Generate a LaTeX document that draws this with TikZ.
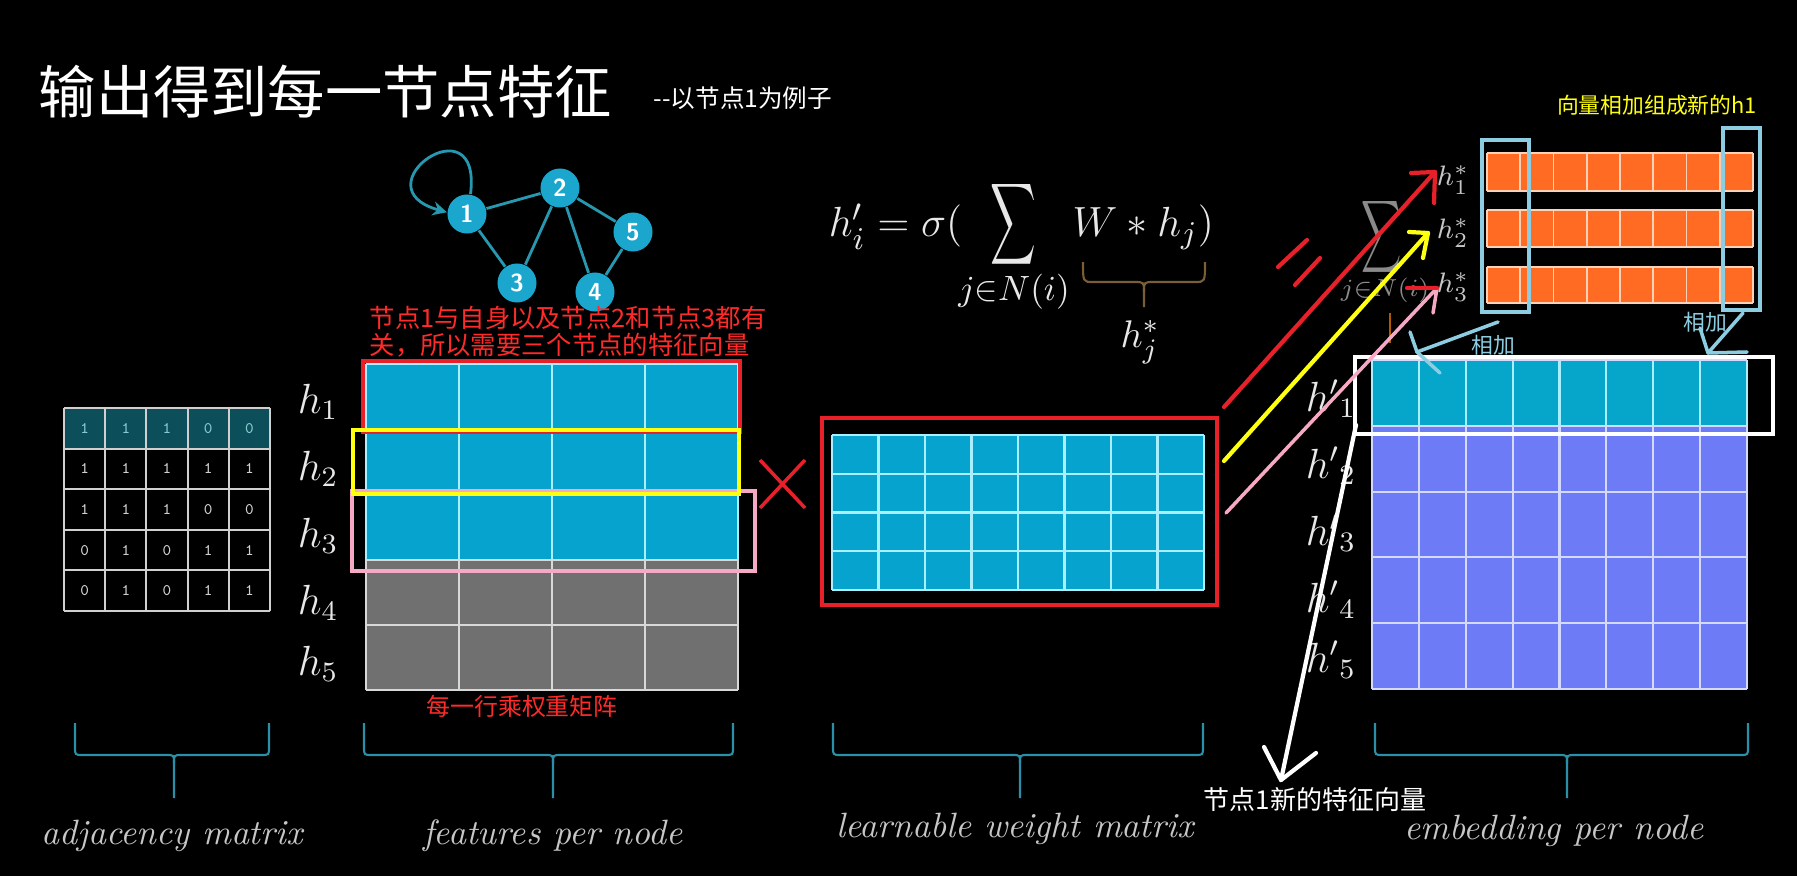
\documentclass[tikz,border=0pt]{standalone}
\usepackage{amsmath}
\usepackage{graphicx}
\usepackage{fontspec}
\newfontfamily\cjk{Noto Sans CJK SC}
\usetikzlibrary{arrows.meta}
\definecolor{cellblue}{HTML}{06A3CE}
\definecolor{gridcyan}{HTML}{A8F0FF}
\definecolor{cellgray}{HTML}{707070}
\definecolor{gridgray}{HTML}{D8D8D8}
\definecolor{nodeblue}{HTML}{1BA7CD}
\definecolor{edgeteal}{HTML}{2898B0}
\definecolor{adjteal}{HTML}{0C4F5B}
\definecolor{adjgrid}{HTML}{D0D0D0}
\definecolor{adjtop}{HTML}{8CC8CF}
\definecolor{boxred}{HTML}{E8202A}
\definecolor{txtred}{HTML}{FF2A2A}
\definecolor{boxyel}{HTML}{FFFF10}
\definecolor{boxpink}{HTML}{F7A8C4}
\definecolor{orangec}{HTML}{FF6B22}
\definecolor{gridorange}{HTML}{FFD2B8}
\definecolor{lblue}{HTML}{8CCDE2}
\definecolor{embblue}{HTML}{6E7BF7}
\definecolor{embteal}{HTML}{05A6C9}
\definecolor{embgrid}{HTML}{D4DAFF}
\definecolor{bracec}{HTML}{2A8FA8}
\definecolor{browncl}{HTML}{7A5E35}
\definecolor{labgray}{HTML}{C6C6C6}
\definecolor{mathw}{HTML}{E8E8E8}
\definecolor{faint}{HTML}{8A8A8A}
\begin{document}
\begin{tikzpicture}[x=0.01cm,y=-0.01cm,
  gnode/.style={circle,fill=nodeblue,minimum size=0.39cm,inner sep=0pt,text=white,font=\sffamily\bfseries\fontsize{7}{8}\selectfont},
  gedge/.style={draw=edgeteal,line width=0.8pt},
  adjnum/.style={text=adjgrid,font=\ttfamily\fontsize{4.6}{5}\selectfont,inner sep=0pt},
  hlab/.style={text=mathw,font=\fontsize{11.5}{13}\selectfont,inner sep=0pt},
  hstar/.style={text=labgray,font=\fontsize{8}{9}\selectfont,inner sep=0pt},
  botlab/.style={text=labgray,font=\itshape\fontsize{10}{12}\selectfont,inner sep=0pt},
  bbrace/.style={draw=bracec,line width=0.6pt},
  redtxt/.style={text=txtred,font=\cjk\fontsize{7.2}{7.7}\selectfont,inner sep=0pt},
  hand/.style={line width=1.2pt,line cap=round,line join=round},
  mathbig/.style={text=mathw,font=\fontsize{13}{15}\selectfont,inner sep=0pt}
]
\fill[black] (0,0) rectangle (1797,876);

% ---------- title ----------
\node[anchor=west,text=white,font=\cjk\fontsize{16.3}{18}\selectfont,inner sep=0pt] (title) at (38,92) {输出得到每一节点特征};
\node[anchor=west,text=white,font=\cjk\fontsize{7}{8}\selectfont,inner sep=0pt] (subtitle) at (653,98) {-{}-以节点1为例子};

% ---------- graph ----------
\node[gnode] (n1) at (467,214) {1};
\node[gnode] (n2) at (560,188) {2};
\node[gnode] (n5) at (633,232) {5};
\node[gnode] (n3) at (517,283) {3};
\node[gnode] (n4) at (595,292) {4};
\draw[gedge] (n1) -- (n2);
\draw[gedge] (n1) -- (n3);
\draw[gedge] (n2) -- (n3);
\draw[gedge] (n2) -- (n4);
\draw[gedge] (n2) -- (n5);
\draw[gedge] (n5) -- (n4);
\draw[gedge,-{Stealth[length=4pt,width=4pt]}] (n1.80) .. controls +(12,-95) and +(-90,-25) .. (n1.175);

% ---------- adjacency matrix ----------
\fill[adjteal] (64,408) rectangle (270,448.6);
\foreach \i in {0,...,5} {
  \draw[adjgrid,line width=0.6pt] ({64+41.2*\i},408) -- ({64+41.2*\i},611);
  \draw[adjgrid,line width=0.6pt] (64,{408+40.6*\i}) -- (270,{408+40.6*\i});
}
\foreach \row/\rc [count=\r] in {{1,1,1,0,0}/adjtop,{1,1,1,1,1}/adjgrid,{1,1,1,0,0}/adjgrid,{0,1,0,1,1}/adjgrid,{0,1,0,1,1}/adjgrid} {
  \foreach \v [count=\c] in \row {
    \node[adjnum,text=\rc] (a\r\c) at ({64+41.2*(\c-0.5)},{408+40.6*(\r-0.5)}) {\v};
  }
}

% ---------- features matrix ----------
\fill[cellblue] (366,364) rectangle (738,560);
\fill[cellgray] (366,560) rectangle (738,690);
\foreach \i in {0,...,4} {
  \draw[gridcyan,line width=0.6pt] ({366+93*\i},364) -- ({366+93*\i},560);
  \draw[gridgray,line width=0.6pt] ({366+93*\i},560) -- ({366+93*\i},690);
}
\foreach \j in {0,1,2} \draw[gridcyan,line width=0.6pt] (366,{364+65.2*\j}) -- (738,{364+65.2*\j});
\foreach \j in {3,4,5} \draw[gridgray,line width=0.6pt] (366,{364+65.2*\j}) -- (738,{364+65.2*\j});
\node[hlab] (h1) at (318,402) {$h_1$};
\node[hlab] (h2) at (318,469) {$h_2$};
\node[hlab] (h3) at (318,536) {$h_3$};
\node[hlab] (h4) at (318,603) {$h_4$};
\node[hlab] (h5) at (318,664) {$h_5$};

\node[redtxt,anchor=north west,align=left] (note) at (369,305) {节点1与自身以及节点2和节点3都有\\关，所以需要三个节点的特征向量};
\node[redtxt,font=\cjk\fontsize{6.8}{7}\selectfont] (rownote) at (522,706) {每一行乘权重矩阵};

\draw[boxred,line width=1.2pt] (363,361) rectangle (740,432);
\draw[boxpink,line width=1.1pt] (352,491) rectangle (755,571);
\draw[boxyel,line width=1.3pt] (353,430) rectangle (739,494);

% multiply sign
\coordinate (x1) at (760,460); \coordinate (x2) at (805,508);
\coordinate (x3) at (805,460); \coordinate (x4) at (760,508);
\draw[boxred,line width=1pt] (x1) -- (x2);
\draw[boxred,line width=1pt] (x3) -- (x4);

% ---------- weight matrix ----------
\fill[cellblue] (832,435) rectangle (1204,590);
\foreach \i in {0,...,8} \draw[gridcyan,line width=0.6pt] ({832+46.5*\i},435) -- ({832+46.5*\i},590);
\foreach \j in {0,...,4} \draw[gridcyan,line width=0.6pt] (832,{435+38.75*\j}) -- (1204,{435+38.75*\j});
\draw[boxred,line width=1.3pt] (822,418) rectangle (1217,605);

% ---------- formula ----------
\node[mathbig,anchor=base east] (fl) at (963,237) {$h'_i=\sigma($};
\node[mathbig] (fsum) at (1013,224) {\scalebox{0.75}[1.35]{$\displaystyle\sum$}};
\node[text=mathw,font=\fontsize{10}{11}\selectfont,inner sep=0pt,anchor=base] (fsub) at (1014,300) {$j{\in}N(i)$};
\node[mathbig,anchor=base west] (fr) at (1072,237) {$W*h_j)$};
\draw[draw=browncl,line width=0.6pt] (1083,262) .. controls (1083,282) .. (1093,282) -- (1134,282) .. controls (1144,282) .. (1144,292) -- (1144,307);
\draw[draw=browncl,line width=0.6pt] (1205,262) .. controls (1205,282) .. (1195,282) -- (1154,282) .. controls (1144,282) .. (1144,292);
\node[text=mathw,font=\fontsize{11}{12}\selectfont,inner sep=0pt] (hjs) at (1140,342) {$h_j^*$};

% ---------- faint sum on the right ----------
\node[text=faint,font=\fontsize{14}{15}\selectfont,inner sep=0pt] (fsum2) at (1382,237) {\scalebox{0.55}[1]{$\displaystyle\sum$}};
\node[text=faint,font=\fontsize{7.5}{8}\selectfont,inner sep=0pt] (fsub2) at (1385,290) {$j{\in}N(i)$};
\coordinate (ob1) at (1390,313); \coordinate (ob2) at (1390,343);
\draw[draw=orange!70!black,line width=0.6pt] (ob1) -- (ob2);

% ---------- orange rows ----------
\foreach \yt/\yb in {153/191,210/247,267/303} {
  \fill[orangec] (1487,\yt) rectangle (1753,\yb);
  \foreach \i in {0,...,8} \draw[gridorange,line width=0.5pt] ({1487+33.25*\i},\yt) -- ({1487+33.25*\i},\yb);
  \draw[gridorange,line width=0.5pt] (1487,\yt) -- (1753,\yt);
  \draw[gridorange,line width=0.5pt] (1487,\yb) -- (1753,\yb);
}
\node[hstar] (s1) at (1453,180) {$h_1^*$};
\node[hstar] (s2) at (1453,233) {$h_2^*$};
\node[hstar] (s3) at (1453,287) {$h_3^*$};
\draw[lblue,line width=1pt] (1482,140) rectangle (1529,312);
\draw[lblue,line width=1pt] (1723,128) rectangle (1760,310);
\node[text=boxyel,font=\cjk\fontsize{6.2}{7}\selectfont,inner sep=0pt] (ytxt) at (1657,105) {向量相加组成新的h1};

% ---------- embedding matrix ----------
\fill[embteal] (1372,360) rectangle (1747,426);
\fill[embblue] (1372,426) rectangle (1747,689);
\foreach \i in {0,...,8} {
  \draw[gridcyan,line width=0.6pt] ({1372+46.875*\i},360) -- ({1372+46.875*\i},426);
  \draw[embgrid,line width=0.6pt] ({1372+46.875*\i},426) -- ({1372+46.875*\i},689);
}
\foreach \j in {0,...,5} \draw[embgrid,line width=0.6pt] (1372,{360+65.8*\j}) -- (1747,{360+65.8*\j});
\node[hlab] (e1) at (1331,399) {$h'{}_1$};
\node[hlab] (e2) at (1331,466) {$h'{}_2$};
\node[hlab] (e3) at (1331,533) {$h'{}_3$};
\node[hlab] (e4) at (1331,600) {$h'{}_4$};
\node[hlab] (e5) at (1331,660) {$h'{}_5$};
\draw[white,line width=1.3pt] (1355,357) rectangle (1773,434);

% ---------- hand-drawn arrows ----------
\coordinate (rs) at (1224,407); \coordinate (rt) at (1435,172);
\draw[hand,boxred] (rs) -- (rt);
\draw[hand,boxred] (1411,173) -- (rt) -- (1434,203);
\coordinate (ys) at (1224,461); \coordinate (yt) at (1428,233);
\draw[hand,boxyel] (ys) -- (yt);
\draw[hand,boxyel] (1409,232) -- (yt) -- (1423,258);
\coordinate (ps) at (1226,513); \coordinate (pt) at (1437,288);
\draw[hand,boxpink,line width=1pt] (ps) -- (pt) -- (1433,313);
\draw[hand,boxred] (1407,288) -- (pt);
\coordinate (e1a) at (1278,267); \coordinate (e1b) at (1307,240);
\coordinate (e2a) at (1295,285); \coordinate (e2b) at (1320,258);
\draw[hand,boxred] (e1a) -- (e1b);
\draw[hand,boxred] (e2a) -- (e2b);
\coordinate (ws) at (1356,425); \coordinate (wt) at (1281,780);
\draw[hand,white] (ws) -- (wt);
\draw[hand,white] (1264,747) -- (wt) -- (1316,753);
\node[text=white,font=\cjk\fontsize{7.4}{8}\selectfont,inner sep=0pt] (newvec) at (1315,800) {节点1新的特征向量};

\coordinate (la) at (1498,322); \coordinate (lt) at (1417,352);
\draw[hand,lblue,line width=1pt] (la) -- (lt);
\draw[hand,lblue,line width=1pt] (1410,332) -- (lt) -- (1440,373);
\node[text=lblue,font=\cjk\fontsize{6.2}{7}\selectfont,inner sep=0pt] (add1) at (1493,345) {相加};
\coordinate (ra) at (1743,313); \coordinate (rtt) at (1708,353);
\draw[hand,lblue,line width=1pt] (ra) -- (rtt);
\draw[hand,lblue,line width=1pt] (1700,328) -- (rtt) -- (1747,352);
\node[text=lblue,font=\cjk\fontsize{6.2}{7}\selectfont,inner sep=0pt] (add2) at (1705,322) {相加};

% ---------- bottom braces ----------
\foreach \xa/\xc/\xb/\nm in {75/174/269/b1,364/553/733/b2,833/1020/1203/b3,1375/1567/1748/b4} {
  \draw[bbrace] (\xa,723) -- (\xa,747) .. controls (\xa,755) .. ({\xa+8},755) -- ({\xc-8},755) .. controls (\xc,755) .. (\xc,763) -- (\xc,798);
  \draw[bbrace] (\xb,723) -- (\xb,747) .. controls (\xb,755) .. ({\xb-8},755) -- ({\xc+8},755) .. controls (\xc,755) .. (\xc,763);
  \coordinate (\nm) at (\xc,798);
}
\node[botlab] (l1) at (172,836) {adjacency matrix};
\node[botlab] (l2) at (553,836) {features per node};
\node[botlab] (l3) at (1015,829) {learnable weight matrix};
\node[botlab] (l4) at (1554,831) {embedding per node};
\end{tikzpicture}
\end{document}
